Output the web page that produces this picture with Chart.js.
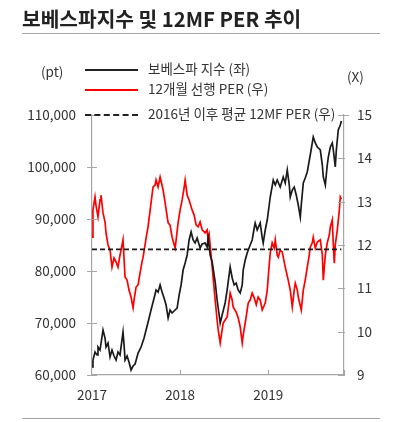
<!DOCTYPE html>
<html>
<head>
<meta charset="utf-8">
<script src="https://cdn.jsdelivr.net/npm/chart.js@4.4.0/dist/chart.umd.min.js"></script>
<style>
    body { margin: 0; background: #fff; font-family: "Noto Sans CJK KR", "Noto Sans", sans-serif; color: #333; }
    #wrap { position: relative; width: 412px; height: 422px; overflow: hidden; }
    #chart { position: absolute; left: 0; top: 0; }
    .txt { position: absolute; white-space: nowrap; transform: translateY(-50%); line-height: 1; }
    .title { left: 22px; top: 18px; font-size: 20.3px; font-weight: bold; color: #222; }
    .rule { position: absolute; left: 22px; width: 358px; height: 0; border-top: 1.5px solid #a6a6a6; }
    .leg { font-size: 13.5px; left: 148px; color: #333; }
    .sample { position: absolute; left: 85px; width: 53px; height: 0; }
    .unit { font-size: 13.5px; color: #333; }
</style>
</head>
<body>
<div id="wrap">
    <canvas id="chart" width="412" height="422"></canvas>
    <div class="txt title">보베스파지수 및 12MF PER 추이</div>
    <div class="rule" style="top:33px"></div>
    <div class="rule" style="top:418px"></div>

    <div class="txt unit" style="left:41px; top:72px">(pt)</div>
    <div class="txt unit" style="left:347px; top:77px">(X)</div>

    <div class="sample" style="top:69px; border-top:2px solid #222"></div>
    <div class="txt leg" style="top:69px">보베스파 지수 (좌)</div>
    <div class="sample" style="top:89px; border-top:2px solid #ff0000"></div>
    <div class="txt leg" style="top:89px">12개월 선행 PER (우)</div>
    <div class="sample" style="top:114px; border-top:2px dashed #222"></div>
    <div class="txt leg" style="top:114px; background:#fff; padding-right:2px">2016년 이후 평균 12MF PER (우)</div>
</div>

<script>
// Bovespa index (left axis)
const bovespaDates = [
    2017.000, 2017.011, 2017.034, 2017.057, 2017.068, 2017.091, 2017.125, 2017.148, 2017.159, 2017.182,
    2017.205, 2017.227, 2017.250, 2017.273, 2017.295, 2017.318, 2017.352, 2017.364, 2017.375, 2017.398,
    2017.420, 2017.443, 2017.466, 2017.489, 2017.523, 2017.557, 2017.591, 2017.614, 2017.648, 2017.670,
    2017.705, 2017.727, 2017.750, 2017.773, 2017.795, 2017.818, 2017.841, 2017.864, 2017.886, 2017.909,
    2017.943, 2017.966, 2017.989, 2018.011, 2018.034, 2018.057, 2018.080, 2018.102, 2018.125, 2018.148,
    2018.170, 2018.193, 2018.227, 2018.250, 2018.284, 2018.307, 2018.318, 2018.341, 2018.364, 2018.398,
    2018.420, 2018.443, 2018.455, 2018.477, 2018.511, 2018.534, 2018.568, 2018.591, 2018.614, 2018.636,
    2018.659, 2018.682, 2018.705, 2018.716, 2018.739, 2018.761, 2018.795, 2018.818, 2018.841, 2018.852,
    2018.875, 2018.909, 2018.932, 2018.943, 2018.966, 2018.989, 2019.023, 2019.057, 2019.080, 2019.102,
    2019.136, 2019.170, 2019.193, 2019.216, 2019.239, 2019.250, 2019.273, 2019.295, 2019.318, 2019.341,
    2019.364, 2019.375, 2019.398, 2019.420, 2019.443, 2019.477, 2019.511, 2019.534, 2019.557, 2019.591,
    2019.614, 2019.625, 2019.648, 2019.670, 2019.682, 2019.705, 2019.727, 2019.739, 2019.761, 2019.773,
    2019.795, 2019.818, 2019.830
];
const bovespaIndex = [
    61540, 62880, 64420, 63850, 65380, 64800, 68650, 67100, 65380, 66150,
    63460, 64800, 63650, 62880, 64420, 63850, 68270, 65770, 62880, 63650,
    62500, 60960, 61730, 62110, 64230, 65380, 67100, 68650, 70960, 72500,
    74800, 76350, 75960, 77310, 75960, 74800, 73460, 70960, 72500, 71920,
    72500, 72880, 75380, 77310, 80190, 81540, 83080, 85960, 87500, 85960,
    85380, 86350, 84420, 85190, 85380, 84620, 86350, 83080, 81730, 77880,
    74420, 71540, 70000, 71540, 73850, 76350, 80770, 78650, 77310, 77690,
    76350, 75770, 77310, 80190, 82120, 83460, 85000, 85960, 88270, 89230,
    87880, 89230, 86350, 85380, 87880, 89810, 94230, 97500, 96540, 97500,
    96150, 98080, 96920, 99420, 96540, 94230, 95580, 96150, 94620, 92690,
    90380, 92690, 96920, 97880, 99040, 102310, 105770, 104620, 103850, 103270,
    100380, 98080, 96540, 100380, 101920, 103850, 104620, 103270, 100000, 103270,
    107120, 108080, 108850
];

// 12-month forward PER (right axis)
const perDates = [
    2017.000, 2017.011, 2017.034, 2017.045, 2017.068, 2017.091, 2017.102, 2017.125, 2017.148, 2017.159,
    2017.182, 2017.205, 2017.227, 2017.250, 2017.273, 2017.295, 2017.318, 2017.330, 2017.352, 2017.375,
    2017.398, 2017.420, 2017.443, 2017.466, 2017.477, 2017.500, 2017.523, 2017.545, 2017.568, 2017.580,
    2017.614, 2017.636, 2017.670, 2017.693, 2017.716, 2017.727, 2017.750, 2017.773, 2017.795, 2017.807,
    2017.830, 2017.864, 2017.886, 2017.909, 2017.943, 2017.955, 2017.977, 2018.000, 2018.023, 2018.045,
    2018.057, 2018.080, 2018.102, 2018.136, 2018.159, 2018.182, 2018.205, 2018.227, 2018.250, 2018.284,
    2018.307, 2018.318, 2018.330, 2018.364, 2018.398, 2018.420, 2018.432, 2018.455, 2018.477, 2018.489,
    2018.511, 2018.534, 2018.568, 2018.591, 2018.602, 2018.636, 2018.659, 2018.682, 2018.705, 2018.716,
    2018.739, 2018.773, 2018.795, 2018.818, 2018.841, 2018.864, 2018.886, 2018.909, 2018.932, 2018.966,
    2018.989, 2019.000, 2019.023, 2019.045, 2019.068, 2019.080, 2019.102, 2019.114, 2019.136, 2019.159,
    2019.193, 2019.227, 2019.250, 2019.273, 2019.295, 2019.307, 2019.330, 2019.341, 2019.375, 2019.398,
    2019.420, 2019.443, 2019.466, 2019.477, 2019.500, 2019.511, 2019.534, 2019.557, 2019.591, 2019.614,
    2019.625, 2019.648, 2019.670, 2019.693, 2019.705, 2019.727, 2019.739, 2019.750, 2019.761, 2019.784,
    2019.807, 2019.818, 2019.830
];
const perValues = [
    12.18, 12.81, 13.11, 12.92, 12.65, 13.04, 13.15, 12.74, 12.53, 12.28,
    12.00, 11.88, 11.49, 11.70, 11.61, 11.49, 11.77, 11.88, 12.12, 11.26,
    11.19, 10.96, 10.80, 10.55, 10.73, 11.03, 11.08, 11.35, 11.61, 11.72,
    12.16, 12.42, 12.97, 13.34, 13.38, 13.50, 13.34, 13.57, 13.38, 13.27,
    12.97, 12.51, 12.46, 12.18, 11.93, 12.12, 12.51, 12.81, 13.04, 13.32,
    13.50, 13.15, 13.04, 12.81, 12.69, 12.46, 12.42, 12.53, 12.35, 12.28,
    12.35, 12.12, 12.23, 11.49, 10.73, 10.27, 10.04, 9.74, 10.04, 10.20,
    10.27, 10.34, 10.89, 10.73, 10.57, 10.45, 10.32, 10.11, 9.74, 9.92,
    10.20, 10.66, 10.73, 10.89, 10.78, 10.62, 10.80, 10.73, 10.50, 10.66,
    10.96, 11.26, 11.82, 12.05, 11.93, 12.12, 11.77, 11.72, 11.88, 11.84,
    11.49, 11.19, 10.96, 10.57, 10.96, 11.12, 10.96, 10.80, 10.50, 10.96,
    11.19, 11.49, 11.77, 11.95, 12.05, 12.18, 11.93, 12.07, 12.12, 11.77,
    11.19, 11.77, 12.05, 12.23, 12.42, 12.58, 12.00, 11.58, 12.00, 12.35,
    12.81, 13.11, 13.06
];

// average forward PER since 2016 (dashed line), start and end of the line
const avgPerDates = [2017.0, 2019.83];
const avgPer = 11.9;

const xTickYears = [2017, 2018, 2019];
const leftTicks = { min: 60000, max: 110000, step: 10000 };
const rightTicks = { min: 9, max: 15, step: 1 };
const xRange = { min: 2017, max: 2019.86 };

const toPoints = (xs, ys) => xs.map((x, i) => ({ x: x, y: ys[i] }));

// small tick marks like the original (left crossing, right and bottom pointing inward)
const tickMarks = {
    id: 'tickMarks',
    afterDraw(chart) {
        const { ctx, chartArea: a, scales } = chart;
        ctx.save();
        ctx.strokeStyle = '#a6a6a6';
        ctx.lineWidth = 1.2;
        ctx.beginPath();
        scales.yL.ticks.forEach(t => {
            const y = Math.round(scales.yL.getPixelForValue(t.value)) + 0.5;
            ctx.moveTo(a.left - 5, y); ctx.lineTo(a.left + 5, y);
        });
        scales.yR.ticks.forEach(t => {
            const y = Math.round(scales.yR.getPixelForValue(t.value)) + 0.5;
            ctx.moveTo(a.right - 6, y); ctx.lineTo(a.right + (t.value === rightTicks.max ? 5 : 1), y);
        });
        scales.x.ticks.forEach(t => {
            if (t.value === xRange.min) return;
            const x = Math.round(scales.x.getPixelForValue(t.value)) + 0.5;
            ctx.moveTo(x, a.bottom); ctx.lineTo(x, a.bottom - 5);
        });
        ctx.moveTo(a.right + 0.5, a.bottom); ctx.lineTo(a.right + 0.5, a.bottom - 5);
        ctx.stroke();
        ctx.restore();
    }
};

const tickFont = { family: '"Noto Sans CJK KR", "Noto Sans", sans-serif', size: 13.5 };

new Chart(document.getElementById('chart'), {
    type: 'line',
    data: {
        datasets: [
            {
                label: '2016년 이후 평균 12MF PER (우)',
                data: toPoints(avgPerDates, [avgPer, avgPer]),
                yAxisID: 'yR',
                borderColor: '#1a1a1a',
                borderWidth: 1.8,
                borderDash: [5, 3],
                pointRadius: 0,
                order: 0
            },
            {
                label: '보베스파 지수 (좌)',
                data: toPoints(bovespaDates, bovespaIndex),
                yAxisID: 'yL',
                borderColor: '#1a1a1a',
                borderWidth: 1.7,
                pointRadius: 0,
                tension: 0,
                order: 1
            },
            {
                label: '12개월 선행 PER (우)',
                data: toPoints(perDates, perValues),
                yAxisID: 'yR',
                borderColor: '#ff0000',
                borderWidth: 1.7,
                pointRadius: 0,
                tension: 0,
                order: 2
            }
        ]
    },
    options: {
        responsive: false,
        animation: false,
        events: [],
        layout: { padding: { top: 115, left: 0, right: 0, bottom: 0 } },
        plugins: {
            legend: { display: false },
            tooltip: { enabled: false }
        },
        scales: {
            x: {
                type: 'linear',
                min: xRange.min,
                max: xRange.max,
                border: { color: '#a6a6a6', width: 1.2 },
                grid: { drawOnChartArea: false, drawTicks: false },
                ticks: {
                    padding: 12,
                    color: '#333',
                    font: tickFont,
                    callback: v => String(v)
                },
                afterBuildTicks: s => { s.ticks = xTickYears.map(v => ({ value: v })); },
                afterFit: s => { s.height = 47; }
            },
            yL: {
                position: 'left',
                min: leftTicks.min,
                max: leftTicks.max,
                border: { color: '#a6a6a6', width: 1.2 },
                grid: { drawOnChartArea: false, drawTicks: false },
                ticks: {
                    stepSize: leftTicks.step,
                    padding: 16,
                    color: '#333',
                    font: tickFont,
                    callback: v => v.toLocaleString('en-US')
                },
                afterFit: s => { s.width = 92; }
            },
            yR: {
                position: 'right',
                min: rightTicks.min,
                max: rightTicks.max,
                border: { color: '#a6a6a6', width: 1.2 },
                grid: { drawOnChartArea: false, drawTicks: false },
                ticks: {
                    stepSize: rightTicks.step,
                    padding: 13,
                    color: '#333',
                    font: tickFont
                },
                afterFit: s => { s.width = 68; }
            }
        }
    },
    plugins: [tickMarks]
});
</script>
</body>
</html>
